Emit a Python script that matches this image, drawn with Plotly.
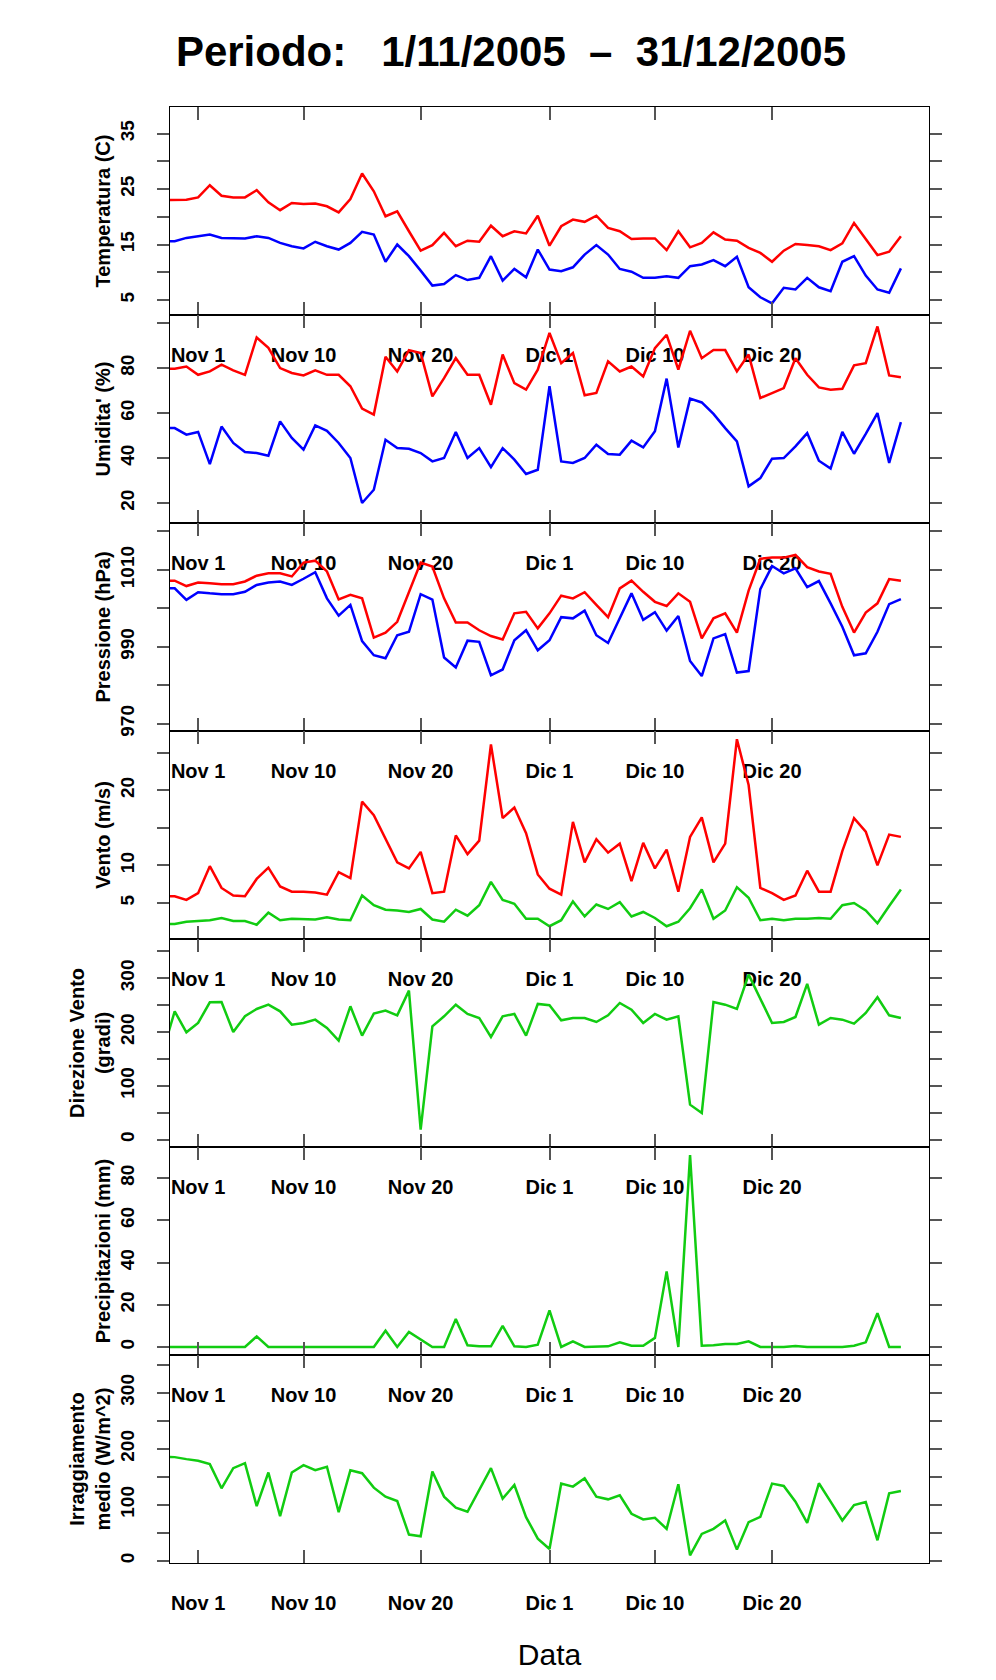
import pandas as pd
import plotly.graph_objects as go
from plotly.subplots import make_subplots

# === Dati giornalieri (29/10/2005 - 31/12/2005) ===
giorni = pd.date_range("2005-10-29", "2005-12-31", freq="D")

temp_max = [23.0, 23.0, 23.1,
            23.5, 25.7, 23.8, 23.5, 23.5, 24.8, 22.6, 21.2, 22.5, 22.3,
            22.4, 21.9, 20.8, 23.2, 27.8, 24.6, 20.1, 21.0, 17.4, 13.9,
            14.9, 17.1, 14.7, 15.7, 15.5, 18.4, 16.5, 17.4, 17.0, 20.2,
            14.8, 18.3, 19.5, 19.1, 20.2, 18.0, 17.4, 16.0, 16.1, 16.1,
            14.0, 17.4, 14.5, 15.3, 17.2, 15.9, 15.7, 14.4, 13.5, 11.9,
            13.9, 15.1, 14.9, 14.7, 14.0, 15.2, 18.9, 15.9, 13.1, 13.7,
            16.5]
temp_min = [15.6, 15.6, 16.2,
            16.5, 16.8, 16.2, 16.1, 16.1, 16.5, 16.2, 15.3, 14.7, 14.3,
            15.5, 14.7, 14.1, 15.3, 17.3, 16.8, 11.9, 15.0, 12.9, 10.3,
            7.6, 7.9, 9.5, 8.6, 9.0, 12.9, 8.5, 10.6, 9.1, 14.1,
            10.5, 10.2, 10.9, 13.2, 14.9, 13.2, 10.6, 10.1, 9.0, 9.0,
            9.3, 9.0, 11.1, 11.4, 12.2, 11.1, 12.8, 7.3, 5.5, 4.4,
            7.2, 6.9, 9.0, 7.3, 6.6, 11.9, 12.9, 9.4, 6.9, 6.3,
            10.7]

umid_max = [79.7, 79.7, 80.7,
            77.0, 78.5, 81.5, 79.0, 77.0, 93.6, 89.0, 80.0, 77.8, 76.7,
            79.0, 77.0, 77.0, 71.9, 62.0, 59.3, 85.0, 78.5, 88.0, 86.7,
            67.4, 75.5, 84.4, 77.0, 77.0, 63.7, 86.0, 73.3, 70.4, 79.3,
            95.6, 82.2, 86.7, 67.9, 68.9, 83.0, 78.5, 80.7, 76.3, 88.9,
            94.8, 79.3, 96.6, 84.4, 88.0, 88.0, 78.5, 86.0, 66.7, 68.9,
            71.1, 84.4, 77.0, 71.4, 70.4, 70.8, 81.2, 82.2, 98.5, 76.7,
            75.9]
umid_min = [53.3, 53.3, 50.4,
            51.6, 37.3, 54.0, 46.7, 42.7, 42.2, 41.0, 56.3, 48.9, 43.7,
            54.5, 52.1, 46.7, 40.0, 20.0, 25.9, 48.1, 44.4, 44.1, 42.2,
            38.5, 40.0, 51.6, 40.0, 44.4, 35.9, 44.4, 39.3, 32.9, 34.8,
            71.9, 38.5, 37.8, 40.0, 45.9, 41.8, 41.5, 47.7, 44.7, 51.9,
            75.3, 44.7, 66.4, 64.7, 59.6, 53.3, 47.4, 27.4, 31.1, 39.7,
            40.0, 45.2, 51.1, 38.8, 35.3, 51.6, 41.9, 50.7, 60.0, 37.8,
            56.0]

press_max = [1007.2, 1007.2, 1005.8,
             1006.7, 1006.5, 1006.3, 1006.3, 1007.0, 1008.5, 1009.1, 1009.1, 1008.3, 1011.9,
             1012.4, 1009.6, 1002.3, 1003.5, 1002.6, 992.4, 993.7, 996.5, 1004.1, 1011.9,
             1010.9, 1002.6, 996.3, 996.3, 994.3, 992.8, 991.9, 998.7, 999.1, 994.8,
             998.7, 1003.3, 1002.6, 1004.2, 1000.9, 997.7, 1005.2, 1007.2, 1004.3, 1001.7,
             1000.6, 1003.9, 1001.7, 992.2, 997.4, 998.7, 993.7, 1004.6, 1012.9, 1013.2,
             1013.2, 1013.9, 1010.7, 1009.6, 1009.0, 1000.4, 993.7, 998.9, 1001.3, 1007.6,
             1007.2]
press_min = [1005.2, 1005.2, 1002.2,
             1004.2, 1003.9, 1003.7, 1003.7, 1004.3, 1006.1, 1006.7, 1007.0, 1006.1, 1007.7,
             1009.4, 1002.6, 998.1, 1000.9, 991.5, 987.8, 987.0, 993.0, 993.9, 1003.7,
             1002.3, 987.2, 984.6, 991.6, 991.3, 982.6, 984.1, 991.7, 994.3, 989.1,
             991.7, 997.7, 997.4, 999.4, 993.0, 991.0, 997.4, 1003.9, 997.0, 999.0,
             994.2, 998.0, 986.3, 982.4, 992.2, 993.3, 983.3, 983.7, 1005.0, 1011.0,
             1009.1, 1010.4, 1005.5, 1007.1, 1001.3, 995.2, 987.8, 988.3, 993.9, 1001.1,
             1002.4]

vento_max = [5.9, 5.9, 5.4,
             6.3, 9.9, 7.0, 6.0, 5.9, 8.2, 9.7, 7.2, 6.5, 6.5,
             6.4, 6.1, 9.1, 8.3, 18.5, 16.7, 13.6, 10.4, 9.6, 11.8,
             6.3, 6.5, 14.0, 11.5, 13.3, 26.1, 16.3, 17.7, 14.3, 8.8,
             6.9, 6.1, 15.8, 10.4, 13.5, 11.7, 12.9, 7.9, 13.0, 9.6,
             12.1, 6.5, 13.8, 16.4, 10.4, 12.9, 26.8, 20.7, 7.0, 6.3,
             5.4, 6.0, 9.3, 6.5, 6.5, 11.9, 16.3, 14.5, 10.0, 14.1,
             13.8]
vento_medio = [2.2, 2.2, 2.5,
               2.6, 2.7, 3.0, 2.6, 2.6, 2.1, 3.7, 2.7, 2.9, 2.8,
               2.8, 3.1, 2.8, 2.7, 6.0, 4.7, 4.1, 4.0, 3.8, 4.2,
               2.8, 2.5, 4.1, 3.3, 4.7, 7.8, 5.4, 4.9, 2.9, 2.9,
               1.9, 2.7, 5.2, 3.2, 4.8, 4.2, 5.1, 3.2, 3.8, 3.0,
               1.9, 2.5, 4.3, 6.8, 2.9, 4.0, 7.1, 5.7, 2.7, 2.9,
               2.7, 2.9, 2.9, 3.0, 2.9, 4.7, 5.0, 4.0, 2.3, 4.6,
               6.8]

direzione = [164.0, 238.5, 199.5,
             216.9, 255.3, 255.9, 200.1, 229.3, 242.9, 250.9, 238.5, 213.8, 216.9,
             223.0, 207.6, 184.0, 247.8, 193.3, 234.2, 239.8, 231.1, 277.0, 18.6,
             210.7, 229.3, 250.9, 233.6, 226.2, 190.8, 229.3, 233.6, 193.3, 252.2,
             249.7, 221.8, 226.2, 226.2, 218.7, 231.1, 254.0, 241.6, 216.9, 233.6,
             223.0, 229.3, 65.1, 49.6, 255.9, 250.9, 242.9, 306.7, 263.3, 216.9,
             218.7, 228.0, 289.4, 213.8, 226.2, 223.0, 215.6, 235.4, 264.6, 231.1,
             226.2]

pioggia = [0, 0, 0,
           0, 0, 0, 0, 0, 5.0, 0, 0, 0, 0,
           0, 0, 0, 0, 0, 0, 7.7, 0, 7.1, 3.5,
           0, 0, 13.2, 0.8, 0.3, 0.3, 10.0, 0.3, 0, 1.1,
           17.3, 0, 2.7, 0, 0, 0.3, 2.2, 0.6, 0.6, 4.3,
           35.8, 0, 90.9, 0.6, 0.8, 1.4, 1.4, 2.7, 0, 0,
           0, 0.5, 0, 0, 0, 0, 0.6, 2.2, 16.0, 0,
           0]

irragg = [186.0, 185.0, 181.4,
          178.4, 172.5, 129.3, 165.3, 174.2, 97.6, 157.5, 79.6, 157.5, 170.7,
          161.7, 167.7, 86.8, 161.7, 156.3, 130.5, 114.4, 106.6, 46.7, 43.7,
          159.3, 114.4, 94.6, 87.4, 127.5, 165.3, 110.8, 135.3, 77.8, 39.5,
          21.0, 137.7, 132.3, 147.3, 114.4, 109.6, 116.8, 83.8, 73.7, 76.6,
          56.9, 136.5, 9.6, 47.9, 56.9, 71.9, 19.8, 68.9, 78.4, 137.7,
          133.5, 105.4, 67.7, 138.3, 105.4, 71.9, 99.4, 104.8, 36.5, 120.4,
          124.6]

# === Tick dell'asse x ===
tick_date = ["2005-11-01", "2005-11-10", "2005-11-20", "2005-12-01", "2005-12-10", "2005-12-20"]
tick_testo = ["Nov 1", "Nov 10", "Nov 20", "Dic 1", "Dic 10", "Dic 20"]

ROSSO = "#ff0000"
BLU = "#0000ff"
VERDE = "#11cc11"
FONT = "Liberation Sans, Arial, sans-serif"

# pannello: (titolo asse y, serie, range y, tick y, etichette y)
pannelli = [
    ("Temperatura (C)", [(temp_max, ROSSO), (temp_min, BLU)], [2.3, 39.8],
     [5, 10, 15, 20, 25, 30, 35], ["5", "", "15", "", "25", "", "35"]),
    ("Umidita' (%)", [(umid_max, ROSSO), (umid_min, BLU)], [11.1, 103.6],
     [20, 40, 60, 80, 100], ["20", "40", "60", "80", ""]),
    ("Pressione (hPa)", [(press_max, ROSSO), (press_min, BLU)], [968.1, 1022.2],
     [970, 980, 990, 1000, 1010, 1020], ["970", "", "990", "", "1010", ""]),
    ("Vento (m/s)", [(vento_max, ROSSO), (vento_medio, VERDE)], [0.2, 27.9],
     [5, 10, 15, 20, 25], ["5", "10", "", "20", ""]),
    ("Direzione Vento<br>(gradi)", [(direzione, VERDE)], [-13.6, 372.9],
     [0, 50, 100, 150, 200, 250, 300, 350], ["0", "", "100", "", "200", "", "300", ""]),
    ("Precipitazioni (mm)", [(pioggia, VERDE)], [-3.8, 94.7],
     [0, 20, 40, 60, 80], ["0", "20", "40", "60", "80"]),
    ("Irraggiamento<br>medio (W/m^2)", [(irragg, VERDE)], [-4.1, 367.4],
     [0, 50, 100, 150, 200, 250, 300, 350], ["0", "", "100", "", "200", "", "300", ""]),
]

fig = make_subplots(rows=7, cols=1, vertical_spacing=0)

for i, (titolo, serie, yr, yt, ytt) in enumerate(pannelli, start=1):
    for valori, colore in serie:
        fig.add_trace(go.Scatter(x=giorni, y=valori, mode="lines",
                                 line=dict(color=colore, width=2.5),
                                 showlegend=False, hoverinfo="skip"),
                      row=i, col=1)
    fig.update_yaxes(range=yr, tickvals=yt, ticktext=ytt, tickangle=-90,
                     ticks="outside", ticklen=12, tickwidth=2, tickcolor="#555555",
                     ticklabelstandoff=15,
                     tickfont=dict(family=FONT, size=19, color="black", weight="bold"),
                     showline=True, linecolor="black", linewidth=1, mirror="ticks",
                     showgrid=False, zeroline=False,
                     title=dict(text=titolo, standoff=1,
                                font=dict(family=FONT, size=20, color="black", weight="bold")),
                     row=i, col=1)
    fig.update_xaxes(type="date", range=["2005-10-29 14:24", "2006-01-02 09:36"],
                     tickvals=tick_date, ticktext=tick_testo,
                     ticks="inside", ticklen=13, tickwidth=2, tickcolor="#555555",
                     ticklabelstandoff=22,
                     tickfont=dict(family=FONT, size=20, color="black", weight="bold"),
                     showline=True, linecolor="black", linewidth=1, mirror="ticks",
                     showgrid=False, zeroline=False,
                     row=i, col=1)

fig.update_xaxes(title=dict(text="Data", standoff=30,
                            font=dict(family=FONT, size=30, color="black")),
                 row=7, col=1)

fig.update_layout(
    width=996, height=1680,
    margin=dict(l=162, r=75, t=99, b=125),
    paper_bgcolor="white", plot_bgcolor="white",
    font=dict(family=FONT, color="black"),
    title=dict(text="Periodo:\u00a0\u00a0\u00a01/11/2005\u00a0\u00a0\u2013\u00a0\u00a031/12/2005",
               xref="container", x=0.505, xanchor="center",
               yref="container", y=1 - 43 / 1680, yanchor="middle",
               font=dict(family=FONT, size=42, color="black", weight="bold")),
)

fig.write_html("out.html")
